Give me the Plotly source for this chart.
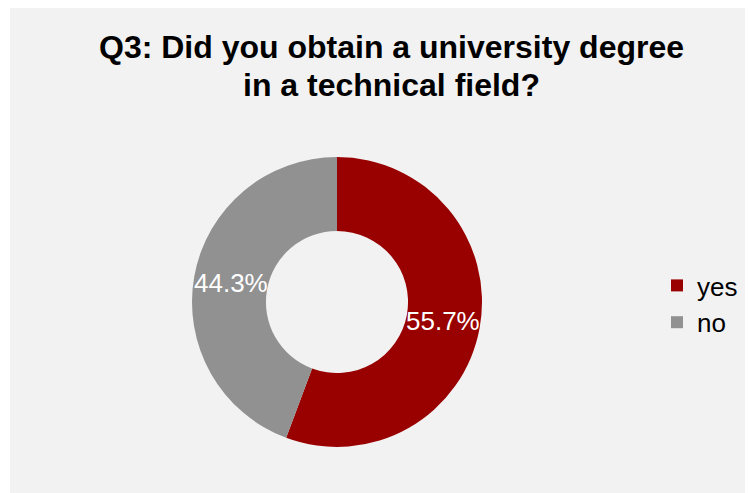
import math
import plotly.graph_objects as go

labels = ["yes", "no"]
values = [55.7, 44.3]
colors = ["#990000", "#919191"]
title_lines = ["Q3: Did you obtain a university degree", "in a technical field?"]

W, H = 745, 485          # page adds an 8px body margin
cx, cy, r = 329, 294, 145
hole = 0.49
FONT = "Liberation Sans, Arial, sans-serif"

fig = go.Figure(go.Pie(
    labels=labels,
    values=values,
    hole=hole,
    sort=False,
    direction="clockwise",
    rotation=0,
    marker=dict(colors=colors, line=dict(width=0)),
    textinfo="none",
    domain=dict(x=[(cx - r) / W, (cx + r) / W], y=[(H - cy - r) / H, (H - cy + r) / H]),
    hoverinfo="label+percent",
))

# data labels at the middle of each ring segment
annotations = []
total = sum(values)
cum = 0.0
rm = r * (1 + hole) / 2
for v in values:
    mid = (cum + v / 2) / total * 2 * math.pi
    cum += v
    px = cx + rm * math.sin(mid)
    py = cy - rm * math.cos(mid)
    annotations.append(dict(
        x=px / W, y=1 - py / H, xref="paper", yref="paper",
        text=f"{v / total * 100:.1f}%", showarrow=False,
        xanchor="center", yanchor="middle",
        font=dict(family=FONT, size=26, color="white"),
    ))

# two-line title
for txt, ty in zip(title_lines, [39, 77]):
    annotations.append(dict(
        x=383 / W, y=1 - ty / H, xref="paper", yref="paper",
        text=txt, showarrow=False, xanchor="center", yanchor="middle",
        font=dict(family=FONT, size=32, color="black", weight="bold"),
    ))

fig.update_layout(
    width=W, height=H,
    margin=dict(l=0, r=0, t=0, b=0),
    paper_bgcolor="white",
    plot_bgcolor="#f2f2f2",
    annotations=annotations,
    legend=dict(
        x=649 / W, xanchor="left",
        y=1 - 296 / H, yanchor="middle",
        font=dict(family=FONT, size=26, color="black"),
        bgcolor="rgba(0,0,0,0)",
        itemwidth=30,
    ),
    shapes=[dict(
        type="rect", xref="paper", yref="paper",
        x0=2 / W, x1=1, y0=0, y1=1,
        fillcolor="#f2f2f2", line=dict(width=0), layer="below",
    )],
)

fig.write_html("out.html")
